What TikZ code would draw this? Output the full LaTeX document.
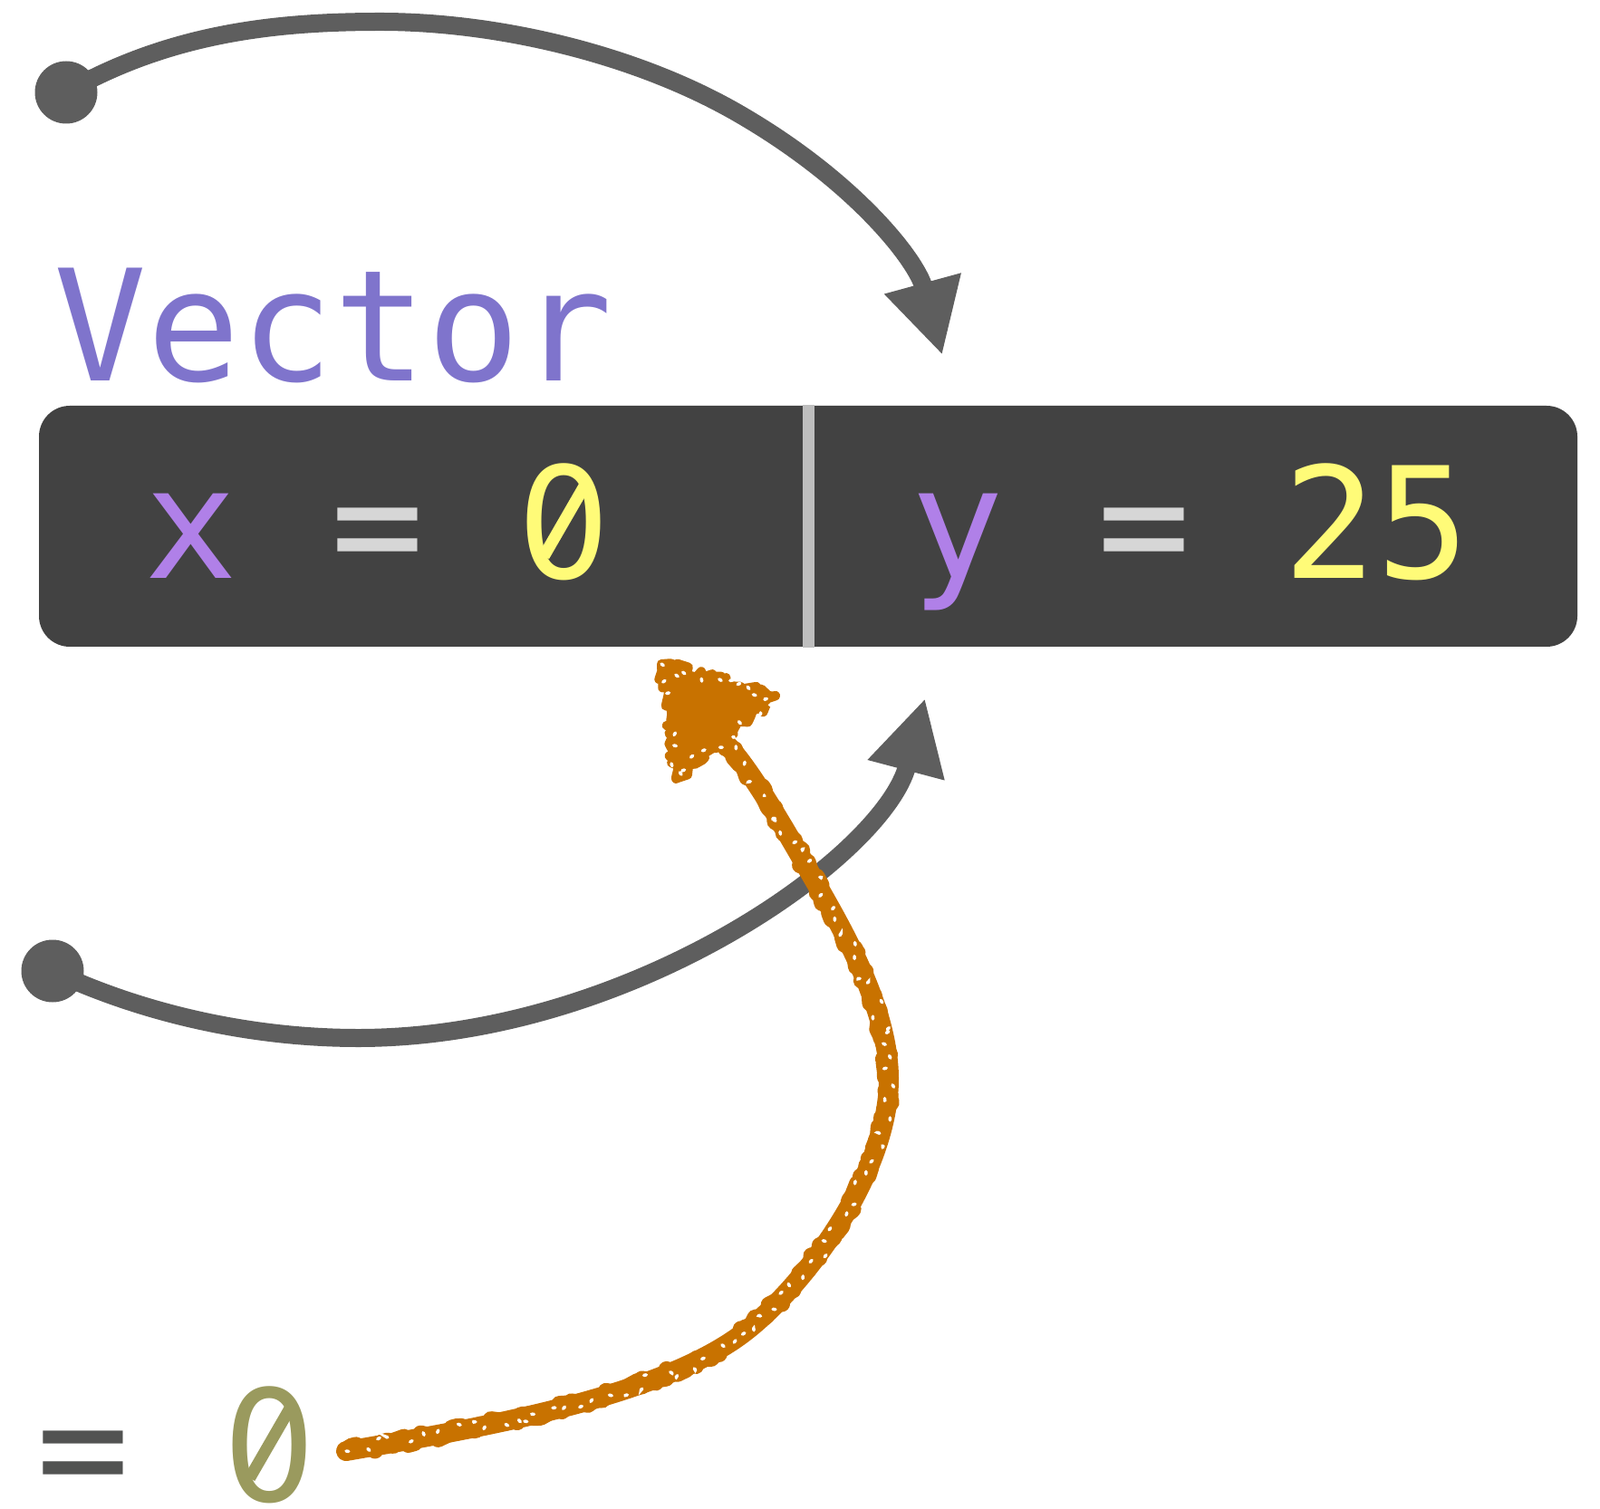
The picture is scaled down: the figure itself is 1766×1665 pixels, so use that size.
\documentclass[tikz,border=0pt]{standalone}
\usepackage{fontspec}
\usepackage{graphicx}
\newfontfamily\codefont{DejaVu Sans Mono}
\newfontfamily\plainfont{DejaVu Sans}
\usepackage{tikz}
\usetikzlibrary{arrows.meta,decorations.pathmorphing}
\definecolor{boxgray}{RGB}{66,66,66}
\definecolor{divgray}{RGB}{190,190,190}
\definecolor{arcgray}{RGB}{94,94,94}
\definecolor{typeblue}{RGB}{127,116,204}
\definecolor{fieldviolet}{RGB}{176,128,232}
\definecolor{eqlight}{RGB}{214,214,214}
\definecolor{numyellow}{RGB}{255,251,120}
\definecolor{eqdark}{RGB}{82,83,82}
\definecolor{olivenum}{RGB}{154,154,94}
\definecolor{chalk}{RGB}{200,114,0}
% zero with a slash through it
\newcommand{\slzero}{\rlap{\makebox[0.602em]{\scalebox{0.94}[1]{\plainfont 0}}}%
  \makebox[0.602em]{\raisebox{0.335em}{\rotatebox[origin=c]{60}{\rule{0.52em}{0.076em}}}}}

\begin{document}
\begin{tikzpicture}[x=0.1mm,y=-0.1mm,
  every node/.style={font=\codefont\fontsize{48.6pt}{58pt}\selectfont,inner sep=0pt},
  dot/.style={circle,fill=arcgray,minimum size=6.9mm},
  bind/.style={draw=arcgray,line width=2mm,-{Triangle[length=8.2mm,width=8.2mm]}},
  chalkbase/.style={draw=chalk,line width=2.2mm,line cap=round},
  chalkrough/.style={draw=chalk,line width=1.8mm,line join=round,line cap=round,decorate,decoration={random steps,segment length=1.5pt,amplitude=1.5pt}},
  speckle/.style={draw=white,line width=0.35mm,line cap=round,dash pattern=on 0.8pt off 8pt,decorate,decoration={random steps,segment length=1.5pt,amplitude=2.4pt}}]
\useasboundingbox (0,0) rectangle (1766,1665);
% the struct value
\node[fill=boxgray,rounded corners=3.4mm,minimum width=169.8mm,minimum height=26.6mm] (vec) at (892,581) {};
\draw[divgray,line width=1.3mm] (vec.north) -- (vec.south);
\node[anchor=base west,text=typeblue] (title) at (59,421) {Vector};
\node[anchor=base] (xfield) at (417,639) {\textcolor{fieldviolet}{x} \textcolor{eqlight}{=} \textcolor{numyellow}{\slzero}};
\node[anchor=base] (yfield) at (1314,639) {\textcolor{fieldviolet}{y} \textcolor{eqlight}{=} \textcolor{numyellow}{25}};
\node[anchor=base,text depth=0pt] (zeroval) at (195,1657) {\textcolor{eqdark}{=} \textcolor{olivenum}{\slzero}};
% gray bindings
\node[dot] (topdot) at (73,102) {};
\coordinate (toptip) at (1040,392);
\draw[bind] (topdot.center) .. controls (190,35) and (310,24) .. (420,24)
  .. controls (550,24) and (700,60) .. (811,123)
  .. controls (941,197) and (1011,286) .. (toptip);
\node[dot] (lowdot) at (58,1072) {};
\coordinate (lowtip) at (1021,771);
\draw[bind] (lowdot.center) .. controls (160,1120) and (280,1146) .. (395,1146)
  .. controls (695,1146) and (975,945) .. (lowtip);
% hand drawn arrow
\coordinate (chalkstart) at (382,1602);
\coordinate (chalkend) at (800,820);
\draw[chalkbase,postaction={chalkrough},postaction={speckle}] (chalkstart)
  .. controls (520,1578) and (719,1545) .. (816,1475)
  .. controls (881,1428) and (981,1300) .. (981,1191)
  .. controls (981,1111) and (926,1019) .. (896,967)
  .. controls (871,924) and (828,847) .. (chalkend);
\fill[chalk,line join=round,postaction={chalkrough,line width=1mm},postaction={speckle}]
  (730,733) -- (856,768) -- (746,860) -- cycle;
\end{tikzpicture}
\end{document}
